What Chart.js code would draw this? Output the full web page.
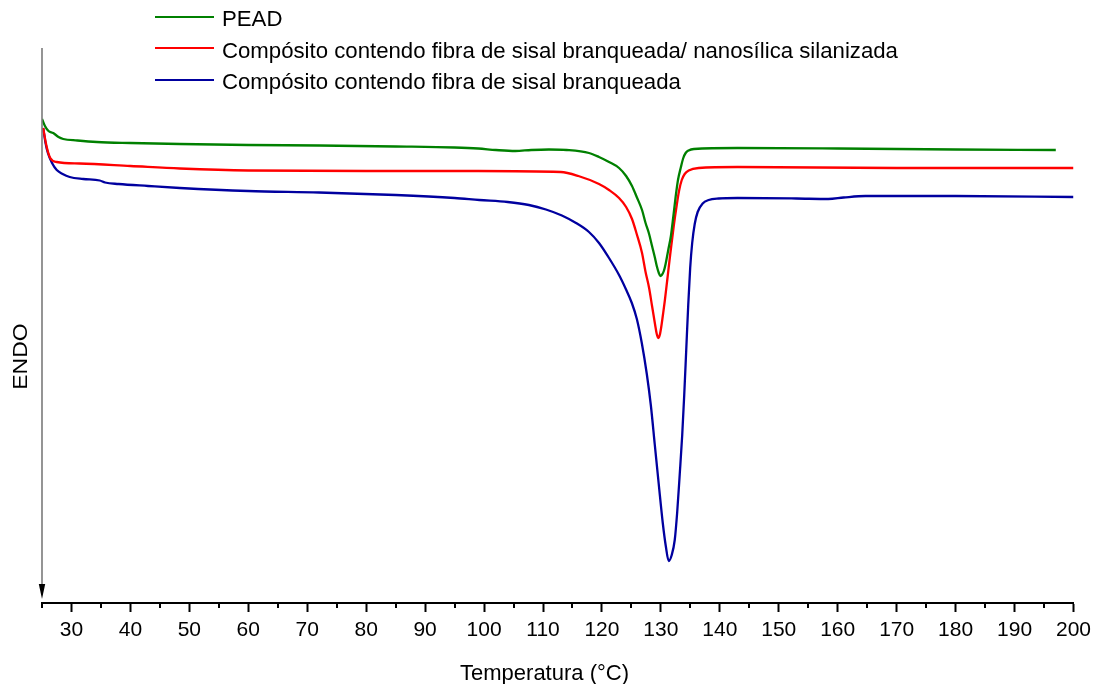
<!DOCTYPE html>
<html lang="pt">
<head>
<meta charset="utf-8">
<title>DSC – PEAD e compósitos</title>
<script src="https://cdn.jsdelivr.net/npm/chart.js@4.4.1/dist/chart.umd.min.js"></script>
<style>
  html, body { margin: 0; padding: 0; background: #ffffff; }
  #wrap { width: 1097px; height: 684px; position: relative; }
</style>
</head>
<body>
<div id="wrap"><canvas id="dsc" width="1097" height="684"></canvas></div>
<script>
// Temperature (°C) and heat-flow signal (arbitrary units, endotherm pointing down)
const seriesLabels = [
  'PEAD',
  'Compósito contendo fibra de sisal branqueada/ nanosílica silanizada',
  'Compósito contendo fibra de sisal branqueada'
];
const seriesColors = ['#008000', '#ff0000', '#00009f'];

const peadT = [25.0, 25.5, 26.1, 26.9, 27.8, 28.6, 31, 34.3, 40, 48.4, 60, 72, 85, 95, 99, 102, 105.3, 108, 111, 114, 117.8, 119.5, 121.2, 122.9, 124.1, 125.1, 125.9, 126.8, 127.4, 128.0, 128.5, 129.0, 129.3, 129.65, 129.9, 130.15, 130.5, 130.8, 131.25, 131.7, 132.1, 132.5, 132.9, 133.4, 133.8, 134.2, 134.7, 135.6, 143, 160, 180, 197];
const peadQ = [484, 477, 472, 470, 466, 464, 462.5, 461, 460, 459, 458, 457.5, 456.5, 455.5, 454.5, 453, 452, 453, 453.5, 453, 450, 446, 441, 435, 427, 417, 406, 393, 380, 369, 357, 345, 337, 330, 327, 328, 332, 339, 353, 367, 386, 406, 423, 436, 445, 450, 452.5, 454, 455, 454.5, 453.5, 453];

const compNanoT = [25.2, 25.8, 26.4, 27.5, 31.4, 40, 48.4, 60, 80, 99, 113, 116, 119.5, 121.2, 122.9, 124.1, 125.1, 125.9, 126.8, 127.4, 128.0, 128.5, 129.0, 129.3, 129.56, 129.81, 130.06, 130.32, 130.66, 131.08, 131.59, 132.18, 132.69, 133.11, 133.54, 134.04, 134.72, 136.4, 143, 170, 200];
const compNanoQ = [475, 456, 445, 441, 439.5, 437, 434.5, 432.5, 432, 432, 431, 427, 419, 413, 405, 396, 384, 369, 350, 331, 315, 297, 279, 269, 265, 268, 276, 287, 302, 323, 349, 377, 398, 413, 423, 429, 432.5, 435, 436, 435, 435];

const compT = [25.2, 25.6, 26.0, 26.7, 27.5, 28.5, 29.7, 32, 34.8, 35.7, 38, 43, 48.4, 60, 72, 85, 95, 99.2, 104.0, 107.6, 110.5, 113.2, 115.6, 117.8, 119.5, 121.2, 122.9, 124.05, 125.07, 125.92, 126.76, 127.61, 128.29, 128.97, 129.65, 130.32, 130.83, 131.33, 131.84, 132.35, 132.77, 133.2, 133.62, 133.96, 134.3, 134.64, 134.97, 135.31, 135.74, 136.24, 137.09, 138.1, 139.8, 143, 153, 158.4, 161, 164.7, 180, 200];
const compQ = [475, 460, 450, 440, 433, 429, 426, 424, 422.5, 420.5, 419, 417, 415, 412, 410.5, 408, 405, 403, 401, 398, 393.5, 387.5, 380, 371, 360, 345, 328, 314, 300, 284, 260, 229, 198, 158, 118, 80, 57, 42, 48, 63, 91, 129, 168, 208, 253, 298, 335, 360, 379, 391, 399.5, 403, 404.5, 405, 404.5, 404, 405.5, 407, 407, 406];

const xTickValues = [30, 40, 50, 60, 70, 80, 90, 100, 110, 120, 130, 140, 150, 160, 170, 180, 190, 200];
const xMinorTicks = [25, 35, 45, 55, 65, 75, 85, 95, 105, 115, 125, 135, 145, 155, 165, 175, 185, 195];
const xTitle = 'Temperatura (°C)';
const yTitle = 'ENDO';

const FONT = '"Liberation Sans", Arial, sans-serif';

function pairs(t, q) { return t.map((v, i) => ({ x: v, y: q[i] })); }

// y-axis arrow, minor x ticks, axis titles and the line legend
const decorations = {
  id: 'decorations',
  afterDraw(chart) {
    const { ctx, chartArea, scales } = chart;
    const xs = scales.x;
    ctx.save();

    // minor ticks under the x axis
    ctx.strokeStyle = '#000';
    ctx.lineWidth = 2;
    xMinorTicks.forEach(v => {
      const px = Math.round(xs.getPixelForValue(v));
      ctx.beginPath();
      ctx.moveTo(px, chartArea.bottom);
      ctx.lineTo(px, chartArea.bottom + 5);
      ctx.stroke();
    });

    // vertical arrow (endotherm direction)
    const ax = chartArea.left;
    ctx.strokeStyle = '#7a7a7a';
    ctx.lineWidth = 1.6;
    ctx.beginPath();
    ctx.moveTo(ax, chartArea.top);
    ctx.lineTo(ax, chartArea.bottom - 16);
    ctx.stroke();
    ctx.fillStyle = '#000';
    ctx.beginPath();
    ctx.moveTo(ax - 3.2, chartArea.bottom - 19);
    ctx.lineTo(ax + 3.2, chartArea.bottom - 19);
    ctx.lineTo(ax, chartArea.bottom - 4);
    ctx.closePath();
    ctx.fill();

    // ENDO label
    ctx.save();
    ctx.translate(27.3, 356.5);
    ctx.rotate(-Math.PI / 2);
    ctx.scale(1.15, 1);
    ctx.font = '20px ' + FONT;
    ctx.fillStyle = '#000';
    ctx.textAlign = 'center';
    ctx.textBaseline = 'alphabetic';
    ctx.fillText(yTitle, 0, 0);
    ctx.restore();

    // x axis title
    ctx.font = '22px ' + FONT;
    ctx.fillStyle = '#000';
    ctx.textAlign = 'center';
    ctx.textBaseline = 'alphabetic';
    ctx.fillText(xTitle, 544.5, 679.5);

    // legend
    const lineY = [17, 48, 80];
    const textY = [26, 57.5, 89];
    ctx.font = '22.2px ' + FONT;
    ctx.textAlign = 'left';
    chart.data.datasets.forEach((ds, i) => {
      ctx.strokeStyle = ds.borderColor;
      ctx.lineWidth = 2;
      ctx.beginPath();
      ctx.moveTo(155, lineY[i]);
      ctx.lineTo(214, lineY[i]);
      ctx.stroke();
      ctx.fillStyle = '#000';
      ctx.fillText(ds.label, 222, textY[i]);
    });
    ctx.restore();
  }
};

const datasets = [
  { label: seriesLabels[0], data: pairs(peadT, peadQ), borderColor: seriesColors[0] },
  { label: seriesLabels[1], data: pairs(compNanoT, compNanoQ), borderColor: seriesColors[1] },
  { label: seriesLabels[2], data: pairs(compT, compQ), borderColor: seriesColors[2] }
].map(d => Object.assign(d, {
  borderWidth: 2.3,
  pointRadius: 0,
  fill: false,
  cubicInterpolationMode: 'monotone'
}));

new Chart(document.getElementById('dsc'), {
  type: 'line',
  data: { datasets },
  options: {
    responsive: false,
    animation: false,
    layout: { padding: { left: 42, right: 22, top: 48, bottom: 0 } },
    plugins: { legend: { display: false }, tooltip: { enabled: false } },
    scales: {
      x: {
        type: 'linear',
        min: 25,
        max: 200,
        afterBuildTicks: (scale) => { scale.ticks = xTickValues.map(v => ({ value: v })); },
        afterFit: (scale) => { scale.height = 81; },
        grid: { display: true, drawOnChartArea: false, drawTicks: true, tickLength: 9, tickColor: '#000', tickWidth: 2 },
        border: { display: true, color: '#000', width: 2 },
        ticks: { color: '#000', font: { family: FONT, size: 21 }, padding: 6, maxRotation: 0, autoSkip: false },
        title: { display: false }
      },
      y: {
        type: 'linear',
        display: false,
        min: 0,
        max: 555
      }
    }
  },
  plugins: [decorations]
});
</script>
</body>
</html>
